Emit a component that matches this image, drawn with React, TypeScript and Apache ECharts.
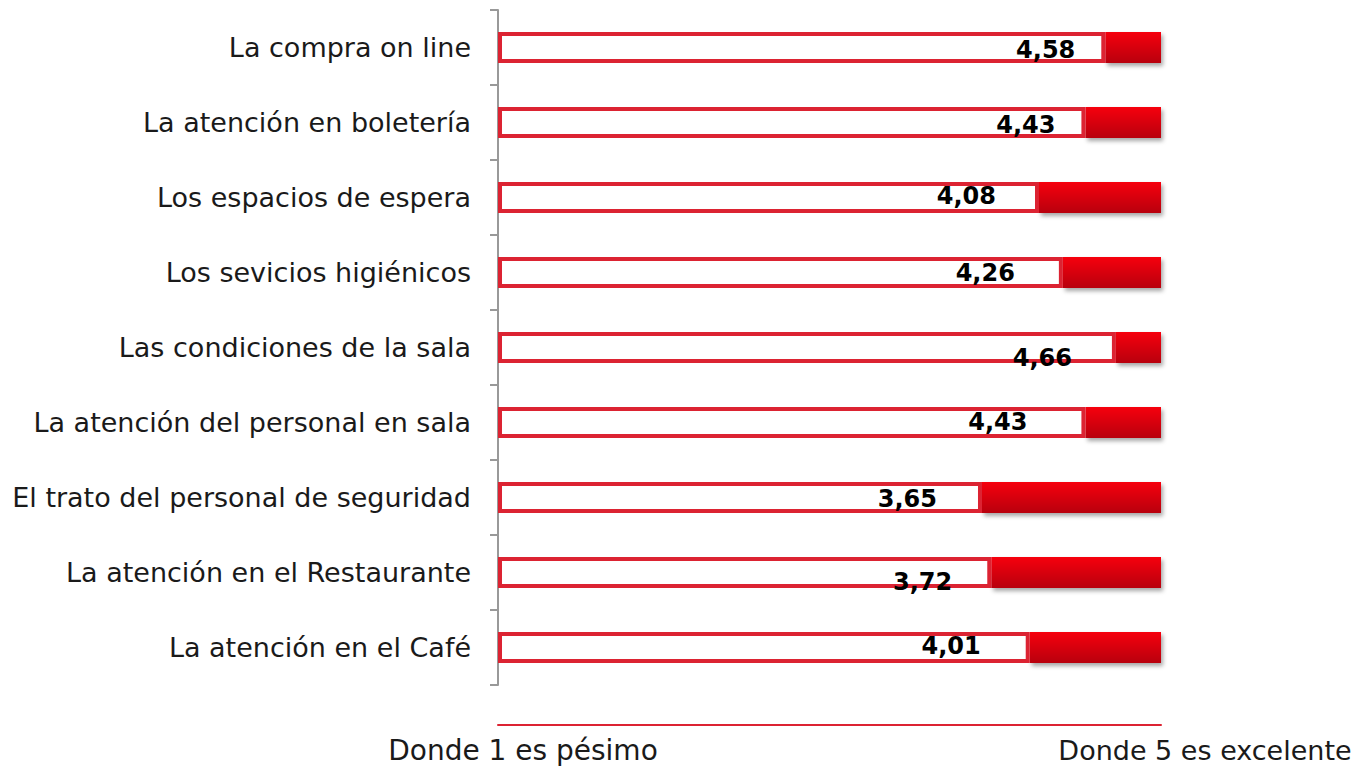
import React, { useEffect, useRef } from "react";
import * as echarts from "echarts";

const categories = [
  "La compra on line",
  "La atención en boletería",
  "Los espacios de espera",
  "Los sevicios higiénicos",
  "Las condiciones de la sala",
  "La atención del personal en sala",
  "El trato del personal de seguridad",
  "La atención en el Restaurante",
  "La atención en el Café",
];
const scores = [4.58, 4.43, 4.08, 4.26, 4.66, 4.43, 3.65, 3.72, 4.01];
const scaleMax = 5;
const leftNote = "Donde 1 es pésimo";
const rightNote = "Donde 5 es excelente";
// per-row label nudges [dx, dy]
const labelNudges = [
  [-30, 2], [-30, 2], [-43, -2], [-48, 0], [-44, 10], [-58, -1], [-45, 1], [-39, 9], [-49, -2],
];

export default function App() {
  const ref = useRef<HTMLDivElement>(null);
  useEffect(() => {
    if (!ref.current) return;
    const chart = echarts.init(ref.current, null, { renderer: "svg" });
    const font = "'DejaVu Sans', sans-serif";
    chart.setOption({
      animation: false,
      backgroundColor: "#ffffff",
      grid: { left: 498, right: 202, top: 10, bottom: 82, containLabel: false },
      xAxis: {
        type: "value",
        min: 0,
        max: scaleMax,
        offset: 40,
        axisLine: { show: true, lineStyle: { color: "#DC2332", width: 2 } },
        axisTick: { show: false },
        axisLabel: { show: false },
        splitLine: { show: false },
      },
      yAxis: {
        type: "category",
        data: categories,
        inverse: true,
        axisLine: { show: true, lineStyle: { color: "#999999", width: 2 } },
        axisTick: { show: true, length: 8, lineStyle: { color: "#999999", width: 2 } },
        axisLabel: { margin: 27, color: "#1a1a1a", fontSize: 27, fontFamily: font },
      },
      series: [
        {
          type: "bar",
          stack: "s",
          barWidth: 31,
          data: scores.map((v, i) => ({
            value: v,
            label: { offset: labelNudges[i] },
          })),
          itemStyle: { color: "#ffffff", borderColor: "#DC2332", borderWidth: 4 },
          label: {
            show: true,
            position: "insideRight",
            distance: 0,
            color: "#000",
            fontWeight: "bold",
            fontSize: 24,
            fontFamily: font,
            formatter: (p: any) => p.value.toFixed(2).replace(".", ","),
          },
          z: 3,
        },
        {
          type: "bar",
          stack: "s",
          barWidth: 31,
          data: scores.map((v) => +(scaleMax - v).toFixed(2)),
          itemStyle: {
            color: new echarts.graphic.LinearGradient(0, 0, 0, 1, [
              { offset: 0, color: "#F6000E" },
              { offset: 1, color: "#B8000A" },
            ]),
            shadowColor: "rgba(0,0,0,0.35)",
            shadowBlur: 4,
            shadowOffsetX: 2,
            shadowOffsetY: 3,
          },
          z: 2,
        },
      ],
      graphic: [
        {
          type: "text",
          x: 523,
          y: 750,
          style: {
            text: leftNote,
            fontSize: 28,
            fontFamily: font,
            fill: "#1a1a1a",
            align: "center",
            verticalAlign: "middle",
          },
        },
        {
          type: "text",
          x: 1205,
          y: 750,
          style: {
            text: rightNote,
            fontSize: 27,
            fontFamily: font,
            fill: "#1a1a1a",
            align: "center",
            verticalAlign: "middle",
          },
        },
      ],
    });
    return () => chart.dispose();
  }, []);
  return (
    <div
      ref={ref}
      style={{ position: "absolute", left: 0, top: 0, width: 1363, height: 767 }}
    />
  );
}
